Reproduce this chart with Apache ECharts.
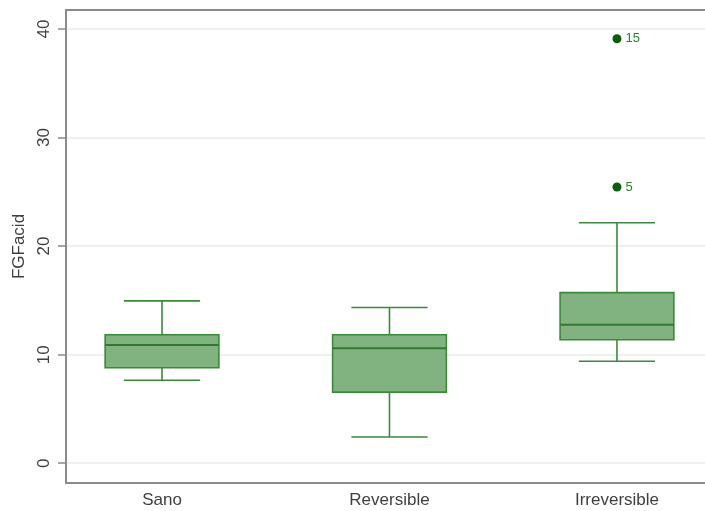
<!DOCTYPE html>
<html>
<head>
<meta charset="utf-8">
<script src="https://cdn.jsdelivr.net/npm/echarts@6/dist/echarts.min.js"></script>
<style>
  html, body { margin: 0; padding: 0; background: #fff; }
  #chart { width: 705px; height: 511px; }
</style>
</head>
<body>
<div id="chart"></div>
<script>
// Groups along the x axis (placed at 1, 2, 3)
const categories = ['Sano', 'Reversible', 'Irreversible'];
const groupPos = [1, 2, 3];

// Box statistics for FGFacid per group
const whiskerLow = [7.65, 2.42, 9.4];
const q1 = [8.8, 6.55, 11.38];
const median = [10.9, 10.6, 12.75];
const q3 = [11.83, 11.83, 15.72];
const whiskerHigh = [14.96, 14.34, 22.15];

// Outside values (group position, value, observation label)
const outlierPos = [3, 3];
const outlierVal = [39.1, 25.45];
const outlierLab = ['15', '5'];

// Y axis labels
const yTicks = [0, 10, 20, 30, 40];

const FONT = 'Liberation Sans, Arial, sans-serif';
const TEXT = '#404040';
const FRAME = '#8a8a8a';
const BOX_FILL = '#80b380';
const BOX_LINE = '#3a8a3a';
const BOX_FRAC = 0.5;   // box width as share of one x unit
const CAP_FRAC = 0.335; // whisker cap width as share of one x unit

const X_MIN = 0.578;
const X_MAX = 3.387;

const boxData = groupPos.map((p, i) => [p, whiskerLow[i], q1[i], median[i], q3[i], whiskerHigh[i]]);
const outlierData = outlierPos.map((p, i) => ({ value: [p, outlierVal[i]], name: outlierLab[i] }));

function renderBox(params, api) {
  const x = api.value(0);
  const unit = api.size([1, 0])[0];
  const half = unit * BOX_FRAC / 2;
  const capHalf = unit * CAP_FRAC / 2;
  const pLow = api.coord([x, api.value(1)]);
  const pQ1 = api.coord([x, api.value(2)]);
  const pMed = api.coord([x, api.value(3)]);
  const pQ3 = api.coord([x, api.value(4)]);
  const pHigh = api.coord([x, api.value(5)]);
  const cx = pLow[0];
  const lineStyle = { stroke: BOX_LINE, lineWidth: 1.6, fill: null };
  return {
    type: 'group',
    children: [
      { type: 'line', shape: { x1: cx, y1: pQ1[1], x2: cx, y2: pLow[1] }, style: lineStyle },
      { type: 'line', shape: { x1: cx, y1: pQ3[1], x2: cx, y2: pHigh[1] }, style: lineStyle },
      { type: 'line', shape: { x1: cx - capHalf, y1: pLow[1], x2: cx + capHalf, y2: pLow[1] }, style: lineStyle },
      { type: 'line', shape: { x1: cx - capHalf, y1: pHigh[1], x2: cx + capHalf, y2: pHigh[1] }, style: lineStyle },
      { type: 'rect', shape: { x: cx - half, y: pQ3[1], width: half * 2, height: pQ1[1] - pQ3[1] },
        style: { fill: BOX_FILL, stroke: BOX_LINE, lineWidth: 1.6 } },
      { type: 'line', shape: { x1: cx - half, y1: pMed[1], x2: cx + half, y2: pMed[1] },
        style: { stroke: '#2f7a2f', lineWidth: 2 } }
    ]
  };
}

const frameLine = { show: true, onZero: false, lineStyle: { color: FRAME, width: 2 } };

const chart = echarts.init(document.getElementById('chart'), null, { renderer: 'canvas' });
chart.setOption({
  animation: false,
  backgroundColor: '#ffffff',
  grid: { left: 66, top: 10, right: 0, bottom: 28 },
  xAxis: [
    {
      type: 'value',
      min: X_MIN, max: X_MAX,
      axisLine: frameLine,
      axisTick: { show: false },
      splitLine: { show: false },
      axisLabel: {
        customValues: groupPos,
        formatter: v => categories[Math.round(v) - 1] || '',
        color: TEXT, fontFamily: FONT, fontSize: 17, margin: 9
      }
    },
    {
      // top edge of the plot frame
      type: 'value',
      position: 'top',
      min: X_MIN, max: X_MAX,
      axisLine: frameLine,
      axisTick: { show: false },
      axisLabel: { show: false },
      splitLine: { show: false }
    }
  ],
  yAxis: {
    type: 'value',
    min: -1.82, max: 41.75,
    name: 'FGFacid',
    nameLocation: 'middle',
    nameGap: 30,
    nameTextStyle: { color: TEXT, fontFamily: FONT, fontSize: 17 },
    axisLine: frameLine,
    axisTick: { show: true, customValues: yTicks, length: 8, lineStyle: { color: FRAME, width: 1.5 } },
    axisLabel: {
      customValues: yTicks, rotate: 90, color: TEXT, fontFamily: FONT, fontSize: 17, margin: 13
    },
    splitLine: { show: true, lineStyle: { color: '#ebebeb', width: 1.5 } }
  },
  series: [
    {
      type: 'custom',
      renderItem: renderBox,
      data: boxData,
      encode: { x: 0, y: [1, 2, 3, 4, 5] },
      z: 3
    },
    {
      type: 'scatter',
      data: outlierData,
      symbol: 'circle',
      symbolSize: 9,
      itemStyle: { color: '#0b5e0b', opacity: 1 },
      label: {
        show: true, position: 'right', distance: 4,
        formatter: p => p.name,
        color: '#2f7f2f', fontFamily: FONT, fontSize: 13
      },
      z: 4
    }
  ]
});
</script>
</body>
</html>
